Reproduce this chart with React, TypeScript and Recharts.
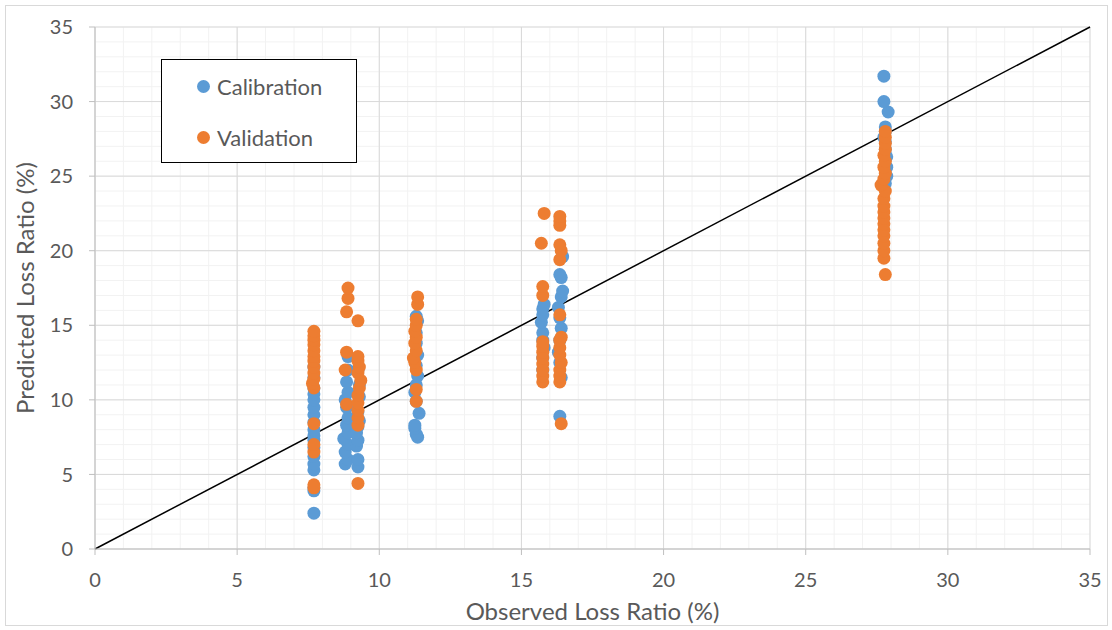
import { ScatterChart, Scatter, XAxis, YAxis, CartesianGrid, ReferenceLine } from 'recharts';

// axis ticks (major every 5, light minor gridlines every 1)
const axisTicks = [0, 5, 10, 15, 20, 25, 30, 35];
const minorLines = Array.from({ length: 36 }, (_, i) => i);

// Calibration points, grouped by observed loss ratio
const calA: [number, number][] = [
  [7.7, 2.4], [7.7, 3.9], [7.7, 4.1], [7.7, 5.3], [7.7, 5.7], [7.7, 6.2], [7.7, 6.8], [7.7, 7.3], [7.7, 7.6],
  [7.7, 8.0], [7.7, 8.5], [7.7, 9.0], [7.7, 9.5], [7.7, 10.0], [7.7, 10.4], [7.7, 10.8], [7.7, 11.5], [7.7, 12.2],
];
const calB: [number, number][] = [
  [8.8, 5.7], [8.9, 6.0], [8.8, 6.5], [8.9, 7.0], [8.75, 7.4], [8.9, 7.8], [8.85, 8.3], [8.9, 8.8], [8.85, 9.5],
  [8.8, 10.0], [8.9, 10.5], [8.85, 11.2], [8.9, 12.0], [8.9, 12.9],
  [9.25, 5.5], [9.25, 6.0], [9.2, 6.9], [9.25, 7.3], [9.2, 7.8], [9.25, 8.2], [9.3, 8.6], [9.25, 9.2], [9.3, 10.2],
  [9.3, 11.0], [9.25, 12.0],
];
const calC: [number, number][] = [
  [11.35, 7.5], [11.3, 7.7], [11.25, 8.1], [11.25, 8.3], [11.4, 9.1], [11.3, 9.9], [11.25, 10.5], [11.3, 11.0],
  [11.35, 11.6], [11.3, 12.3], [11.35, 13.0], [11.3, 13.8], [11.3, 14.5], [11.35, 15.3], [11.3, 15.6],
];
const calD: [number, number][] = [
  [15.75, 12.0], [15.75, 12.8], [15.8, 13.5], [15.75, 14.0], [15.75, 14.5], [15.7, 15.2], [15.75, 15.7],
  [15.75, 16.1], [15.8, 16.4],
  [16.35, 8.9], [16.4, 11.5], [16.35, 12.5], [16.3, 13.2], [16.35, 14.0], [16.4, 14.8], [16.35, 15.5],
  [16.3, 16.2], [16.4, 16.9], [16.45, 17.3], [16.4, 18.2], [16.35, 18.4], [16.45, 19.6],
];
const calE: [number, number][] = [
  [27.8, 24.5], [27.85, 25.0], [27.85, 25.6], [27.85, 26.3], [27.8, 26.8], [27.8, 27.3], [27.75, 27.6],
  [27.8, 28.0], [27.8, 28.3], [27.9, 29.3], [27.75, 30.0], [27.75, 31.7],
];

// Validation points
const valA: [number, number][] = [
  [7.7, 4.1], [7.7, 4.3], [7.7, 6.5], [7.7, 7.0], [7.7, 8.4], [7.7, 10.8], [7.65, 11.1], [7.7, 11.4], [7.7, 11.8],
  [7.7, 12.2], [7.7, 12.6], [7.7, 12.9], [7.7, 13.3], [7.7, 13.7], [7.7, 14.0], [7.7, 14.3], [7.7, 14.6],
];
const valB: [number, number][] = [
  [8.85, 9.7], [8.8, 12.0], [8.85, 13.2], [8.85, 15.9], [8.9, 16.8], [8.9, 17.5],
  [9.25, 4.4], [9.25, 8.3], [9.25, 8.8], [9.25, 9.3], [9.25, 9.8], [9.25, 10.3], [9.3, 10.8], [9.35, 11.3],
  [9.25, 11.8], [9.3, 12.2], [9.25, 12.6], [9.25, 12.9], [9.25, 15.3],
];
const valC: [number, number][] = [
  [11.3, 9.9], [11.3, 10.7], [11.3, 12.0], [11.25, 12.5], [11.2, 12.8], [11.3, 13.3], [11.25, 13.8], [11.3, 14.2],
  [11.25, 14.6], [11.3, 15.0], [11.3, 15.4], [11.35, 16.4], [11.35, 16.9],
];
const valD: [number, number][] = [
  [15.75, 11.2], [15.75, 11.6], [15.75, 12.0], [15.75, 12.4], [15.75, 12.8], [15.75, 13.2], [15.75, 13.6],
  [15.75, 13.9], [15.75, 17.0], [15.75, 17.6], [15.7, 20.5], [15.8, 22.5],
  [16.4, 8.4], [16.35, 11.2], [16.35, 11.6], [16.35, 12.0], [16.4, 12.5], [16.35, 13.0], [16.35, 13.5],
  [16.35, 14.0], [16.4, 14.2], [16.35, 15.7], [16.35, 19.4], [16.4, 20.0], [16.35, 20.4], [16.35, 21.7],
  [16.35, 22.0], [16.35, 22.3],
];
const valE: [number, number][] = [
  [27.8, 18.4], [27.75, 19.5], [27.75, 20.0], [27.75, 20.5], [27.75, 21.0], [27.75, 21.4], [27.75, 21.8],
  [27.75, 22.2], [27.75, 22.6], [27.75, 23.0], [27.75, 23.5], [27.8, 24.0], [27.65, 24.4], [27.75, 24.8],
  [27.8, 25.2], [27.75, 25.6], [27.8, 26.0], [27.75, 26.4], [27.8, 26.8], [27.8, 27.2], [27.8, 27.6], [27.8, 28.0],
];

const toPts = (arr: [number, number][]) => arr.map(([x, y]) => ({ x, y }));
const calibration = toPts([...calA, ...calB, ...calC, ...calD, ...calE]);
const validation = toPts([...valA, ...valB, ...valC, ...valD, ...valE]);

const BLUE = '#5b9bd5';
const ORANGE = '#ed7d31';
const FONT = 'Lato, "Open Sans", sans-serif';
const tickStyle = { fill: '#595959', fontSize: 20, fontFamily: FONT };

const dot = (color: string) => (props: any) => <circle cx={props.cx} cy={props.cy} r={6.5} fill={color} />;

const LegendBox = () => (
  <div
    style={{
      position: 'absolute',
      left: 161,
      top: 59,
      width: 196,
      height: 104,
      border: '1.5px solid #000',
      background: '#fff',
      fontFamily: FONT,
      fontSize: 22,
      color: '#595959',
      boxSizing: 'border-box',
    }}
  >
    {[
      { name: 'Calibration', color: BLUE, top: 26 },
      { name: 'Validation', color: ORANGE, top: 77 },
    ].map((it) => (
      <div key={it.name} style={{ position: 'absolute', left: 35, top: it.top - 14, display: 'flex', alignItems: 'center', height: 28 }}>
        <span style={{ width: 13, height: 13, borderRadius: 7, background: it.color, display: 'inline-block', marginRight: 7 }} />
        <span>{it.name}</span>
      </div>
    ))}
  </div>
);

export default function App() {
  return (
    <div style={{ position: 'absolute', left: 0, top: 0, width: 1112, height: 630, background: '#fff' }}>
      <div style={{ position: 'absolute', left: 5, top: 5, width: 1101, height: 619, border: '1px solid #d9d9d9' }} />
      <ScatterChart width={1112} height={630} margin={{ top: 27, right: 22, bottom: 0, left: 0 }}>
        <CartesianGrid horizontalValues={minorLines} verticalValues={minorLines} stroke="#f2f2f2" strokeWidth={1} />
        <CartesianGrid stroke="#d9d9d9" strokeWidth={1} />
        <XAxis
          type="number"
          dataKey="x"
          domain={[0, 35]}
          ticks={axisTicks}
          interval={0}
          height={81}
          tick={tickStyle}
          tickMargin={18}
          stroke="#bfbfbf"
          label={{ value: 'Observed Loss Ratio (%)', position: 'insideBottom', offset: 10, fill: '#595959', fontSize: 24, fontFamily: FONT }}
        />
        <YAxis
          type="number"
          dataKey="y"
          domain={[0, 35]}
          ticks={axisTicks}
          interval={0}
          width={95}
          tick={tickStyle}
          tickMargin={16}
          stroke="#bfbfbf"
          label={{
            value: 'Predicted Loss Ratio (%)',
            angle: -90,
            position: 'insideLeft',
            offset: 25,
            fill: '#595959',
            fontSize: 24,
            fontFamily: FONT,
            style: { textAnchor: 'middle' },
          }}
        />
        <Scatter name="Calibration" data={calibration} fill={BLUE} shape={dot(BLUE)} isAnimationActive={false} />
        <Scatter name="Validation" data={validation} fill={ORANGE} shape={dot(ORANGE)} isAnimationActive={false} />
        <ReferenceLine segment={[{ x: 0, y: 0 }, { x: 35, y: 35 }]} stroke="#000" strokeWidth={1.5} ifOverflow="visible" />
      </ScatterChart>
      <LegendBox />
    </div>
  );
}
